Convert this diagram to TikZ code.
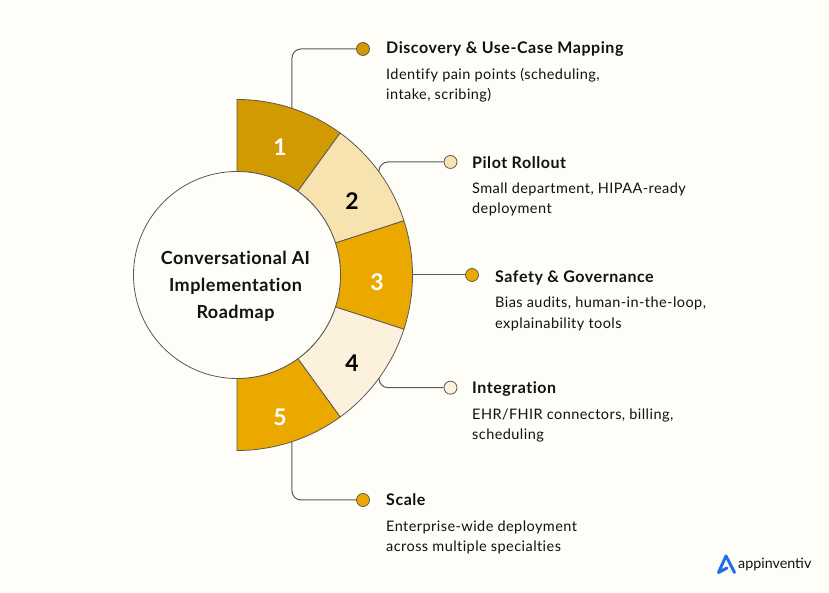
\documentclass[tikz,border=0pt]{standalone}
\usepackage{fontspec}
\setmainfont{Lato}
\newfontfamily\titlefont[LetterSpace=3.4,Ligatures=NoCommon]{Lato}
\newfontfamily\descfont[LetterSpace=3.0,Ligatures=NoCommon]{Lato}
\newfontfamily\hubfont[LetterSpace=2.6,Ligatures=NoCommon]{Lato}
\definecolor{bgc}{HTML}{FFFDF7}
\definecolor{segA}{HTML}{D09A00}
\definecolor{segB}{HTML}{F7E3B0}
\definecolor{segC}{HTML}{EBA900}
\definecolor{segD}{HTML}{FBF1DC}
\definecolor{linec}{HTML}{5A5A55}
\definecolor{inkc}{HTML}{111111}
\definecolor{logoc}{HTML}{1F6FEB}
\begin{document}
\begin{tikzpicture}[x=1pt,y=1pt,
  seg/.style={draw=linec,line width=0.8pt,line join=round},
  conn/.style={draw=linec,line width=1pt,rounded corners=9pt},
  dot/.style={circle,draw=linec,line width=0.8pt,minimum size=13pt,inner sep=0pt},
  numw/.style={font=\fontsize{23}{24}\selectfont\bfseries,text=white,inner sep=0pt},
  numk/.style={font=\fontsize{23}{24}\selectfont\bfseries,text=black,inner sep=0pt},
  ttl/.style={anchor=base west,inner sep=0pt,font=\titlefont\fontsize{16}{18}\selectfont\bfseries,text=inkc},
  desc/.style={anchor=base west,inner sep=0pt,font=\descfont\fontsize{14.5}{20}\selectfont,text=inkc},
  ctext/.style={anchor=base,inner sep=0pt,font=\hubfont\fontsize{18}{20}\selectfont\bfseries,text=inkc}]
\path[use as bounding box,fill=bgc] (0,0) rectangle (829,593);
\begin{scope}[shift={(237,318)}]
  \foreach \a/\b/\c in {90/54/segA,54/18/segB,18/-18/segC,-18/-54/segD,-54/-90/segC}{
    \path[seg,fill=\c] (\a:175.5) arc[start angle=\a,end angle=\b,radius=175.5pt]
      -- (\b:103.5) arc[start angle=\b,end angle=\a,radius=103.5pt] -- cycle;
  }
  \node[circle,draw=linec,line width=0.8pt,fill=bgc,minimum size=207pt,inner sep=0pt] (hub) at (0,0) {};
  \coordinate (p1) at (71.74:175.5);
  \coordinate (p2) at (36:175.5);
  \coordinate (p3) at (0:175.5);
  \coordinate (p4) at (-36:175.5);
  \coordinate (p5) at (-71.74:175.5);
\end{scope}
\node[numw] (n1) at (280,445.5) {1};
\node[numk] (n2) at (352,392) {2};
\node[numw] (n3) at (377,311) {3};
\node[numk] (n4) at (352,229.5) {4};
\node[numw] (n5) at (280,175.5) {5};
\node[ctext] (c1) at (235.5,328.5) {Conversational AI};
\node[ctext] (c2) at (235.5,301) {Implementation};
\node[ctext] (c3) at (235.5,274) {Roadmap};
\node[dot,fill=segA] (d1) at (363,544) {};
\node[dot,fill=segB] (d2) at (450.5,431) {};
\node[dot,fill=segC] (d3) at (472,318) {};
\node[dot,fill=segD] (d4) at (450.5,205.3) {};
\node[dot,fill=segC] (d5) at (363,93) {};
\draw[conn] (p1) |- (d1.west);
\draw[conn] (p2) |- (d2.west);
\draw[conn] (p3) -- (d3.west);
\draw[conn] (p4) |- (d4.west);
\draw[conn] (p5) |- (d5.west);
\node[ttl] (t1) at (386,539) {Discovery \& Use-Case Mapping};
\node[desc] (a1) at (386,513) {Identify pain points (scheduling,};
\node[desc] (b1) at (386,493) {intake, scribing)};
\node[ttl] (t2) at (472,424.5) {Pilot Rollout};
\node[desc] (a2) at (472,399) {Small department, HIPAA-ready};
\node[desc] (b2) at (472,379) {deployment};
\node[ttl] (t3) at (495,310.5) {Safety \& Governance};
\node[desc] (a3) at (495,285) {Bias audits, human-in-the-loop,};
\node[desc] (b3) at (495,264.5) {explainability tools};
\node[ttl] (t4) at (472,199.5) {Integration};
\node[desc] (a4) at (472,173.5) {EHR/FHIR connectors, billing,};
\node[desc] (b4) at (472,153.5) {scheduling};
\node[ttl] (t5) at (386,87) {Scale};
\node[desc] (a5) at (386,61) {Enterprise-wide deployment};
\node[desc] (b5) at (386,41) {across multiple specialties};
\draw[logoc,line width=3pt,line join=round,line cap=round] (734.5,20.5) -- (726,37) -- (718.5,20.5) -- (727,25);
\node[anchor=base west,inner sep=0pt,font=\fontsize{14.3}{18}\selectfont,text=inkc] (logo) at (738,24) {appinventiv};
\end{tikzpicture}
\end{document}
